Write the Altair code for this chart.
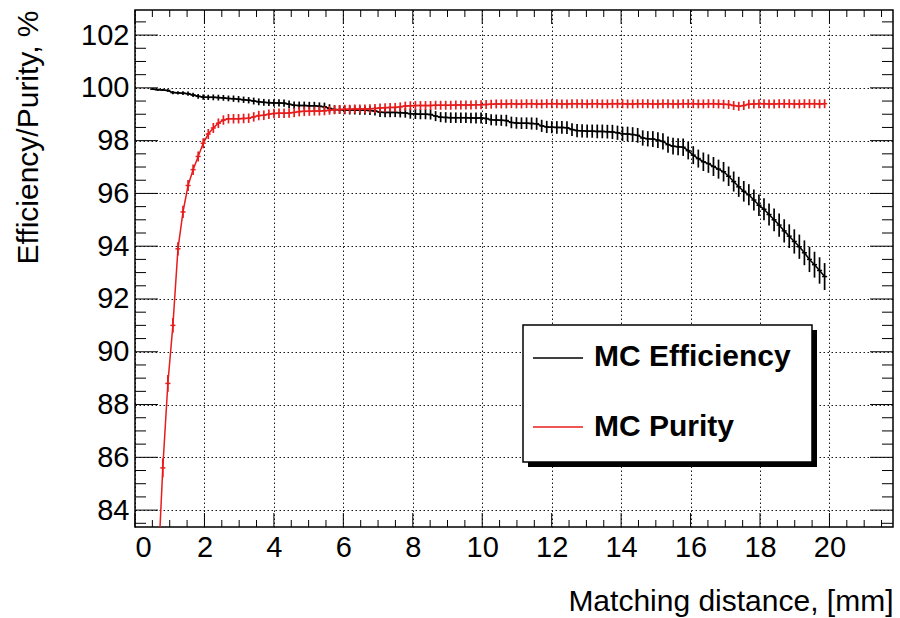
import altair as alt
import pandas as pd

# ---------------- data ----------------
bin_width = 0.1455

eff_first_center = 0.509
eff_values = [
    99.95, 99.93, 99.92, 99.90, 99.82, 99.81, 99.80, 99.78, 99.73, 99.68,
    99.65, 99.64, 99.64, 99.63, 99.62, 99.60, 99.59, 99.57, 99.55, 99.53,
    99.50, 99.47, 99.45, 99.44, 99.43, 99.43, 99.42, 99.38, 99.34, 99.33,
    99.33, 99.32, 99.32, 99.30, 99.28, 99.22, 99.18, 99.17, 99.16, 99.16,
    99.16, 99.15, 99.15, 99.14, 99.12, 99.08, 99.07, 99.07, 99.07, 99.06,
    99.05, 99.02, 99.01, 99.00, 99.00, 98.99, 98.93, 98.89, 98.88, 98.87,
    98.87, 98.87, 98.87, 98.86, 98.86, 98.86, 98.84, 98.79, 98.78, 98.77,
    98.76, 98.69, 98.67, 98.66, 98.66, 98.65, 98.64, 98.56, 98.52, 98.51,
    98.50, 98.50, 98.49, 98.42, 98.38, 98.37, 98.36, 98.36, 98.35, 98.35,
    98.34, 98.33, 98.30, 98.26, 98.25, 98.23, 98.20, 98.10, 98.07, 98.06,
    98.02, 97.97, 97.85, 97.79, 97.77, 97.75, 97.62, 97.45, 97.32, 97.20,
    97.13, 97.02, 96.92, 96.82, 96.65, 96.45, 96.25, 96.08, 95.95, 95.75,
    95.55, 95.40, 95.20, 95.00, 94.80, 94.58, 94.38, 94.18, 93.98, 93.75,
    93.50, 93.30, 93.08, 92.85,
]
eff_errors = [
    0.03, 0.04, 0.04, 0.05, 0.06, 0.06, 0.07, 0.08, 0.08, 0.09,
    0.10, 0.10, 0.11, 0.11, 0.11, 0.11, 0.12, 0.12, 0.12, 0.12,
    0.13, 0.13, 0.13, 0.13, 0.14, 0.14, 0.14, 0.14, 0.14, 0.15,
    0.15, 0.15, 0.15, 0.15, 0.16, 0.16, 0.16, 0.16, 0.16, 0.17,
    0.17, 0.17, 0.17, 0.17, 0.17, 0.18, 0.18, 0.18, 0.18, 0.18,
    0.18, 0.19, 0.19, 0.19, 0.19, 0.19, 0.19, 0.19, 0.20, 0.20,
    0.20, 0.20, 0.20, 0.20, 0.21, 0.21, 0.21, 0.21, 0.21, 0.21,
    0.22, 0.22, 0.22, 0.22, 0.22, 0.23, 0.23, 0.23, 0.23, 0.23,
    0.24, 0.24, 0.24, 0.24, 0.25, 0.25, 0.25, 0.25, 0.26, 0.26,
    0.26, 0.27, 0.27, 0.27, 0.28, 0.28, 0.28, 0.29, 0.29, 0.30,
    0.30, 0.31, 0.31, 0.32, 0.32, 0.33, 0.33, 0.34, 0.34, 0.35,
    0.35, 0.36, 0.36, 0.37, 0.37, 0.38, 0.38, 0.39, 0.40, 0.40,
    0.41, 0.42, 0.42, 0.43, 0.44, 0.44, 0.45, 0.46, 0.46, 0.47,
    0.48, 0.49, 0.50, 0.51,
]

pur_first_center = 0.655
pur_values = [
    81.50, 85.60, 88.80, 91.00, 93.90, 95.30, 96.30, 96.90, 97.40, 97.90,
    98.25, 98.48, 98.66, 98.78, 98.83, 98.83, 98.83, 98.84, 98.85, 98.90,
    98.95, 98.96, 99.00, 99.03, 99.04, 99.04, 99.05, 99.07, 99.10, 99.11,
    99.11, 99.12, 99.12, 99.13, 99.15, 99.17, 99.18, 99.19, 99.19, 99.20,
    99.20, 99.20, 99.21, 99.22, 99.24, 99.25, 99.26, 99.26, 99.28, 99.31,
    99.32, 99.33, 99.33, 99.33, 99.33, 99.34, 99.34, 99.34, 99.34, 99.35,
    99.35, 99.35, 99.35, 99.36, 99.36, 99.37, 99.38, 99.39, 99.39, 99.39,
    99.40, 99.39, 99.39, 99.40, 99.40, 99.39, 99.39, 99.40, 99.40, 99.40,
    99.39, 99.39, 99.40, 99.40, 99.40, 99.39, 99.40, 99.40, 99.39, 99.39,
    99.40, 99.40, 99.40, 99.39, 99.39, 99.40, 99.40, 99.40, 99.39, 99.39,
    99.40, 99.40, 99.39, 99.39, 99.40, 99.40, 99.40, 99.39, 99.39, 99.40,
    99.40, 99.39, 99.38, 99.37, 99.33, 99.30, 99.33, 99.38, 99.39, 99.40,
    99.40, 99.39, 99.39, 99.40, 99.40, 99.40, 99.39, 99.39, 99.40, 99.40,
    99.40, 99.39, 99.40,
]
pur_errors = [
    0.40, 0.36, 0.32, 0.28, 0.25, 0.23, 0.21, 0.20, 0.19, 0.19,
    0.19, 0.19, 0.18, 0.18, 0.18, 0.18, 0.18, 0.18, 0.18, 0.18,
    0.18, 0.18, 0.18, 0.18, 0.18, 0.18, 0.18, 0.18, 0.18, 0.18,
    0.17, 0.17, 0.17, 0.17, 0.17, 0.17, 0.17, 0.17, 0.17, 0.17,
    0.17, 0.17, 0.17, 0.17, 0.17, 0.17, 0.17, 0.17, 0.17, 0.17,
    0.17, 0.17, 0.17, 0.17, 0.17, 0.17, 0.17, 0.17, 0.17, 0.17,
    0.17, 0.17, 0.17, 0.17, 0.17, 0.17, 0.17, 0.17, 0.17, 0.17,
    0.17, 0.17, 0.17, 0.17, 0.17, 0.17, 0.17, 0.17, 0.17, 0.17,
    0.17, 0.17, 0.17, 0.17, 0.17, 0.17, 0.17, 0.17, 0.17, 0.17,
    0.17, 0.17, 0.17, 0.17, 0.17, 0.17, 0.17, 0.17, 0.17, 0.17,
    0.17, 0.17, 0.17, 0.17, 0.17, 0.17, 0.17, 0.17, 0.17, 0.17,
    0.17, 0.17, 0.17, 0.17, 0.17, 0.17, 0.17, 0.17, 0.17, 0.17,
    0.17, 0.17, 0.17, 0.17, 0.17, 0.17, 0.17, 0.17, 0.17, 0.17,
    0.17, 0.17, 0.17,
]

x_major_ticks = [0, 2, 4, 6, 8, 10, 12, 14, 16, 18, 20]
x_minor_ticks = [0.5, 1, 1.5, 2.5, 3, 3.5, 4.5, 5, 5.5, 6.5, 7, 7.5,
                 8.5, 9, 9.5, 10.5, 11, 11.5, 12.5, 13, 13.5, 14.5, 15, 15.5,
                 16.5, 17, 17.5, 18.5, 19, 19.5, 20.5, 21, 21.5]
y_major_ticks = [84, 86, 88, 90, 92, 94, 96, 98, 100, 102]
y_minor_ticks = [83.5, 84.5, 85, 85.5, 86.5, 87, 87.5, 88.5, 89, 89.5,
                 90.5, 91, 91.5, 92.5, 93, 93.5, 94.5, 95, 95.5, 96.5, 97,
                 97.5, 98.5, 99, 99.5, 100.5, 101, 101.5, 102.5]

legend_labels = ["MC Efficiency", "MC Purity"]
x_title = "Matching distance, [mm]"
y_title = "Efficiency/Purity, %"

# ---------------- layout / style ----------------
W, H = 758, 517
FONT = "Liberation Sans"
RED = "#e81c1c"
x_domain = [0, 21.83]
y_domain = [83.36, 102.95]


def hist_frame(first_center, values, errors):
    rows = []
    for i, (v, e) in enumerate(zip(values, errors)):
        c = first_center + i * bin_width
        rows.append({"c": c, "lo": c - bin_width / 2, "hi": c + bin_width / 2,
                     "v": v, "elo": v - e, "ehi": v + e})
    return pd.DataFrame(rows)


eff_df = hist_frame(eff_first_center, eff_values, eff_errors)
pur_df = hist_frame(pur_first_center, pur_values, pur_errors)

xs = alt.Scale(domain=x_domain, nice=False, zero=False)
ys = alt.Scale(domain=y_domain, nice=False, zero=False)

x_axis = alt.Axis(values=x_major_ticks, format="d", tickSize=0, domain=False,
                  grid=True, gridColor="black", gridDash=[1.5, 2.5], gridWidth=1,
                  gridOpacity=0.9,
                  labelFont=FONT, labelFontSize=29, labelColor="black", labelPadding=6,
                  title=x_title, titleFont=FONT, titleFontSize=30, titleFontWeight="normal",
                  titleColor="black", titleAlign="right", titleBaseline="alphabetic",
                  titleX=W, titleY=83)
y_axis = alt.Axis(values=y_major_ticks, format="d", tickSize=0, domain=False,
                  grid=True, gridColor="black", gridDash=[1.5, 2.5], gridWidth=1,
                  gridOpacity=0.9,
                  labelFont=FONT, labelFontSize=29, labelColor="black", labelPadding=6,
                  title=y_title, titleFont=FONT, titleFontSize=30, titleFontWeight="normal",
                  titleColor="black", titleAngle=270, titleAlign="right",
                  titleBaseline="alphabetic", titleX=-98, titleY=0)


def X(field):
    return alt.X(f"{field}:Q", scale=xs, axis=x_axis)


def Y(field):
    return alt.Y(f"{field}:Q", scale=ys, axis=y_axis)


def series_layers(df, color):
    base = alt.Chart(df)
    line = base.mark_line(color=color, strokeWidth=1.5, clip=True).encode(x=X("c"), y=Y("v"))
    horiz = base.mark_rule(color=color, strokeWidth=1.5, clip=True).encode(
        x=X("lo"), x2="hi", y=Y("v"))
    vert = base.mark_rule(color=color, strokeWidth=1.7, clip=True).encode(
        x=X("c"), y=Y("elo"), y2="ehi")
    return [line, horiz, vert]


def xticks(vals, length):
    d = pd.DataFrame({"t": vals})
    bottom = alt.Chart(d).mark_rule(color="black", strokeWidth=1).encode(
        x=X("t"), y=alt.value(H), y2=alt.value(H - length))
    top = alt.Chart(d).mark_rule(color="black", strokeWidth=1).encode(
        x=X("t"), y=alt.value(0), y2=alt.value(length))
    return [bottom, top]


def yticks(vals, length):
    d = pd.DataFrame({"t": vals})
    left = alt.Chart(d).mark_rule(color="black", strokeWidth=1).encode(
        y=Y("t"), x=alt.value(0), x2=alt.value(length))
    right = alt.Chart(d).mark_rule(color="black", strokeWidth=1).encode(
        y=Y("t"), x=alt.value(W), x2=alt.value(W - length))
    return [left, right]


one = pd.DataFrame({"k": [0]})
leg_df = pd.DataFrame({"label": legend_labels})

shadow = alt.Chart(one).mark_rect(color="black").encode(
    x=alt.value(393), x2=alt.value(682), y=alt.value(320), y2=alt.value(457))
box = alt.Chart(one).mark_rect(fill="white", stroke="black", strokeWidth=1.5).encode(
    x=alt.value(388), x2=alt.value(677), y=alt.value(315), y2=alt.value(452))
leg_line1 = alt.Chart(one).mark_rule(color="black", strokeWidth=1.3).encode(
    x=alt.value(398), x2=alt.value(448), y=alt.value(348))
leg_line2 = alt.Chart(one).mark_rule(color=RED, strokeWidth=1.3).encode(
    x=alt.value(398), x2=alt.value(448), y=alt.value(417))
leg_text1 = alt.Chart(leg_df).transform_filter(alt.datum.label == legend_labels[0]).mark_text(
    font=FONT, fontSize=30, fontWeight="bold", align="left", baseline="alphabetic",
    color="black").encode(text="label:N", x=alt.value(459), y=alt.value(356))
leg_text2 = alt.Chart(leg_df).transform_filter(alt.datum.label == legend_labels[1]).mark_text(
    font=FONT, fontSize=30, fontWeight="bold", align="left", baseline="alphabetic",
    color="black").encode(text="label:N", x=alt.value(459), y=alt.value(426))

layers = (series_layers(eff_df, "black") + series_layers(pur_df, RED)
          + xticks(x_major_ticks, 14) + xticks(x_minor_ticks, 7)
          + yticks(y_major_ticks, 23) + yticks(y_minor_ticks, 11)
          + [shadow, box, leg_line1, leg_line2, leg_text1, leg_text2])

chart = alt.layer(*layers).properties(
    width=W, height=H,
    autosize=alt.AutoSizeParams(type="none"),
    padding={"left": 135, "top": 10, "right": 7, "bottom": 91},
    background="white",
).configure_view(stroke="black", strokeWidth=1.5)

chart.save("out.html", embed_options={"renderer": "svg", "actions": False})
